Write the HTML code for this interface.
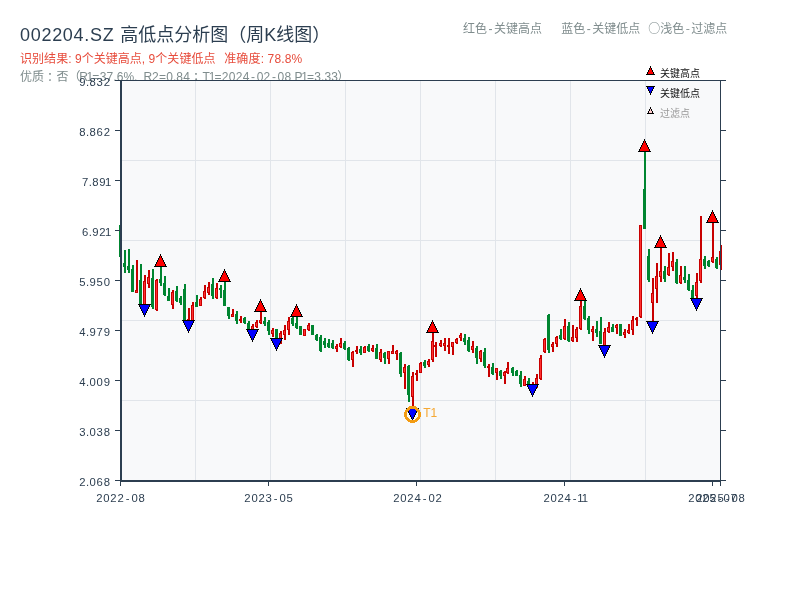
<!DOCTYPE html>
<html lang="zh-CN"><head><meta charset="utf-8"><title>002204.SZ 高低点分析图（周K线图）</title>
<style>
html,body{margin:0;padding:0;background:#fff;}
body{width:800px;height:600px;overflow:hidden;font-family:"Liberation Sans", "Noto Sans CJK SC", sans-serif;}
svg{display:block;}
text{font-family:"Liberation Sans", "Noto Sans CJK SC", sans-serif;}
.t1{font-size:18px;fill:#2c3e50;}
.t2{font-size:12px;fill:#e74c3c;}
.t3{font-size:12px;fill:#7f8c8d;}
.tk{font-size:11.3px;fill:#2c3e50;}
.lg{font-size:10px;fill:#111;}
</style></head><body>
<svg width="800" height="600" viewBox="0 0 800 600">
<rect x="0" y="0" width="800" height="600" fill="#fff"/>
<text class="t1" y="40.5"><tspan x="20" textLength="93.7" lengthAdjust="spacing">002204.SZ</tspan> <tspan x="120.2">高低点分析图（周K线图）</tspan></text>
<text class="t2" y="63.3"><tspan x="20" textLength="195.5" lengthAdjust="spacing">识别结果: 9个关键高点, 9个关键低点</tspan> <tspan x="224.2" textLength="78" lengthAdjust="spacing">准确度: 78.8%</tspan></text>
<text class="t3" y="81.4"><tspan x="20">优质</tspan><tspan x="47.0">：</tspan><tspan x="56.5">否（</tspan><tspan x="79.27 86.51 92.3 99.64 106.59 113.28 116.64 123.42 134.03 138.88 143.42 151.89 158.9 166.24 172.93 176.29 183.24">R1=37.6%, R2=0.84</tspan><tspan x="193.0">；</tspan><tspan x="202.48 208.71 214.5 221.84 228.79 235.74 242.69 251 256.64 263.59 271.9 277.54 284.49 291.28 294.45 301.21 307 314.34 321.03 324.39 331.34">T1=2024-02-08 P1=3.33</tspan><tspan x="337.2">）</tspan></text>
<text class="t3" y="33"><tspan x="463 475 488.5 494 506 518 530">红色-关键高点</tspan> <tspan x="561.2 573.2 586.7 592.2 604.2 616.2 628.2">蓝色-关键低点</tspan> <tspan x="648.3 660.3 672.3 685.8 691.3 703.3 715.3" style="font-family:'Noto Sans CJK SC','Liberation Sans',sans-serif">○浅色-过滤点</tspan></text>
<rect x="120" y="80" width="601" height="401" fill="#f8f9fa"/>
<g fill="#e1e5ea" shape-rendering="crispEdges">
<rect x="195" y="81" width="1" height="399"/>
<rect x="270" y="81" width="1" height="399"/>
<rect x="345" y="81" width="1" height="399"/>
<rect x="420" y="81" width="1" height="399"/>
<rect x="495" y="81" width="1" height="399"/>
<rect x="570" y="81" width="1" height="399"/>
<rect x="645" y="81" width="1" height="399"/>
<rect x="122" y="160" width="598" height="1"/>
<rect x="122" y="240" width="598" height="1"/>
<rect x="122" y="320" width="598" height="1"/>
<rect x="122" y="400" width="598" height="1"/>
</g>
<g shape-rendering="crispEdges">
<rect x="120" y="225" width="2" height="32" fill="#008530"/><rect x="119" y="225" width="3" height="32" fill="#008530"/>
<rect x="124" y="250" width="2" height="23" fill="#008530"/><rect x="123" y="263" width="3" height="4" fill="#008530"/>
<rect x="128" y="249" width="2" height="24" fill="#008530"/><rect x="127" y="266" width="3" height="4" fill="#008530"/>
<rect x="132" y="265" width="2" height="27" fill="#008530"/><rect x="131" y="269" width="3" height="23" fill="#008530"/>
<rect x="136" y="260" width="2" height="33" fill="#c80000"/><rect x="135" y="290" width="3" height="3" fill="#c80000"/><rect x="136" y="291" width="1" height="1" fill="#ff3030"/>
<rect x="140" y="264" width="2" height="41" fill="#008530"/><rect x="139" y="280" width="3" height="25" fill="#008530"/>
<rect x="144" y="275" width="2" height="30" fill="#c80000"/><rect x="143" y="281" width="3" height="24" fill="#c80000"/><rect x="144" y="282" width="1" height="22" fill="#ff3030"/>
<rect x="148" y="270" width="2" height="18" fill="#c80000"/><rect x="147" y="277" width="3" height="7" fill="#c80000"/><rect x="148" y="278" width="1" height="5" fill="#ff3030"/>
<rect x="152" y="269" width="2" height="40" fill="#008530"/><rect x="151" y="278" width="3" height="29" fill="#008530"/>
<rect x="156" y="279" width="2" height="32" fill="#c80000"/><rect x="155" y="280" width="3" height="30" fill="#c80000"/><rect x="156" y="281" width="1" height="28" fill="#ff3030"/>
<rect x="160" y="262" width="2" height="24" fill="#008530"/><rect x="159" y="279" width="3" height="4" fill="#008530"/>
<rect x="164" y="276" width="2" height="20" fill="#008530"/><rect x="163" y="283" width="3" height="12" fill="#008530"/>
<rect x="168" y="288" width="2" height="13" fill="#008530"/><rect x="167" y="296" width="3" height="5" fill="#008530"/>
<rect x="172" y="290" width="2" height="19" fill="#c80000"/><rect x="171" y="292" width="3" height="13" fill="#c80000"/><rect x="172" y="293" width="1" height="11" fill="#ff3030"/>
<rect x="176" y="286" width="2" height="16" fill="#008530"/><rect x="175" y="291" width="3" height="10" fill="#008530"/>
<rect x="180" y="296" width="2" height="9" fill="#008530"/><rect x="179" y="298" width="3" height="5" fill="#008530"/>
<rect x="184" y="284" width="2" height="37" fill="#008530"/><rect x="183" y="289" width="3" height="32" fill="#008530"/>
<rect x="188" y="308" width="2" height="13" fill="#c80000"/><rect x="187" y="319" width="3" height="2" fill="#c80000"/>
<rect x="192" y="302" width="2" height="19" fill="#c80000"/><rect x="191" y="305" width="3" height="16" fill="#c80000"/><rect x="192" y="306" width="1" height="14" fill="#ff3030"/>
<rect x="196" y="295" width="2" height="12" fill="#008530"/><rect x="195" y="302" width="3" height="5" fill="#008530"/>
<rect x="200" y="297" width="2" height="9" fill="#c80000"/><rect x="199" y="299" width="3" height="7" fill="#c80000"/><rect x="200" y="300" width="1" height="5" fill="#ff3030"/>
<rect x="204" y="285" width="2" height="14" fill="#c80000"/><rect x="203" y="291" width="3" height="7" fill="#c80000"/><rect x="204" y="292" width="1" height="5" fill="#ff3030"/>
<rect x="208" y="282" width="2" height="13" fill="#c80000"/><rect x="207" y="287" width="3" height="6" fill="#c80000"/><rect x="208" y="288" width="1" height="4" fill="#ff3030"/>
<rect x="212" y="278" width="2" height="21" fill="#008530"/><rect x="211" y="284" width="3" height="12" fill="#008530"/>
<rect x="216" y="283" width="2" height="16" fill="#c80000"/><rect x="215" y="288" width="3" height="10" fill="#c80000"/><rect x="216" y="289" width="1" height="8" fill="#ff3030"/>
<rect x="220" y="285" width="2" height="13" fill="#008530"/><rect x="219" y="288" width="3" height="2" fill="#008530"/>
<rect x="224" y="278" width="2" height="28" fill="#008530"/><rect x="223" y="290" width="3" height="16" fill="#008530"/>
<rect x="228" y="307" width="2" height="12" fill="#008530"/><rect x="227" y="307" width="3" height="9" fill="#008530"/>
<rect x="232" y="309" width="2" height="8" fill="#c80000"/><rect x="231" y="314" width="3" height="3" fill="#c80000"/><rect x="232" y="315" width="1" height="1" fill="#ff3030"/>
<rect x="236" y="311" width="2" height="13" fill="#008530"/><rect x="235" y="314" width="3" height="7" fill="#008530"/>
<rect x="240" y="316" width="2" height="7" fill="#c80000"/><rect x="239" y="319" width="3" height="2" fill="#c80000"/>
<rect x="244" y="317" width="2" height="7" fill="#008530"/><rect x="243" y="318" width="3" height="5" fill="#008530"/>
<rect x="248" y="321" width="2" height="9" fill="#008530"/><rect x="247" y="323" width="3" height="7" fill="#008530"/>
<rect x="252" y="324" width="2" height="6" fill="#c80000"/><rect x="251" y="326" width="3" height="4" fill="#c80000"/><rect x="252" y="327" width="1" height="2" fill="#ff3030"/>
<rect x="256" y="320" width="2" height="8" fill="#c80000"/><rect x="255" y="322" width="3" height="5" fill="#c80000"/><rect x="256" y="323" width="1" height="3" fill="#ff3030"/>
<rect x="260" y="308" width="2" height="16" fill="#c80000"/><rect x="259" y="320" width="3" height="3" fill="#c80000"/><rect x="260" y="321" width="1" height="1" fill="#ff3030"/>
<rect x="264" y="317" width="2" height="9" fill="#008530"/><rect x="263" y="321" width="3" height="3" fill="#008530"/>
<rect x="268" y="320" width="2" height="15" fill="#008530"/><rect x="267" y="322" width="3" height="9" fill="#008530"/>
<rect x="272" y="328" width="2" height="9" fill="#c80000"/><rect x="271" y="330" width="3" height="4" fill="#c80000"/><rect x="272" y="331" width="1" height="2" fill="#ff3030"/>
<rect x="276" y="329" width="2" height="13" fill="#008530"/><rect x="275" y="329" width="3" height="13" fill="#008530"/>
<rect x="280" y="331" width="2" height="13" fill="#c80000"/><rect x="279" y="333" width="3" height="9" fill="#c80000"/><rect x="280" y="334" width="1" height="7" fill="#ff3030"/>
<rect x="284" y="325" width="2" height="15" fill="#c80000"/><rect x="283" y="330" width="3" height="5" fill="#c80000"/><rect x="284" y="331" width="1" height="3" fill="#ff3030"/>
<rect x="288" y="317" width="2" height="18" fill="#c80000"/><rect x="287" y="321" width="3" height="9" fill="#c80000"/><rect x="288" y="322" width="1" height="7" fill="#ff3030"/>
<rect x="292" y="317" width="2" height="9" fill="#008530"/><rect x="291" y="318" width="3" height="6" fill="#008530"/>
<rect x="296" y="313" width="2" height="16" fill="#008530"/><rect x="295" y="323" width="3" height="5" fill="#008530"/>
<rect x="300" y="326" width="2" height="9" fill="#008530"/><rect x="299" y="326" width="3" height="9" fill="#008530"/>
<rect x="304" y="329" width="2" height="7" fill="#c80000"/><rect x="303" y="329" width="3" height="7" fill="#c80000"/><rect x="304" y="330" width="1" height="5" fill="#ff3030"/>
<rect x="308" y="323" width="2" height="8" fill="#c80000"/><rect x="307" y="325" width="3" height="5" fill="#c80000"/><rect x="308" y="326" width="1" height="3" fill="#ff3030"/>
<rect x="312" y="325" width="2" height="10" fill="#008530"/><rect x="311" y="325" width="3" height="10" fill="#008530"/>
<rect x="316" y="334" width="2" height="7" fill="#008530"/><rect x="315" y="335" width="3" height="5" fill="#008530"/>
<rect x="320" y="335" width="2" height="17" fill="#008530"/><rect x="319" y="337" width="3" height="14" fill="#008530"/>
<rect x="324" y="338" width="2" height="10" fill="#008530"/><rect x="323" y="341" width="3" height="4" fill="#008530"/>
<rect x="328" y="339" width="2" height="9" fill="#008530"/><rect x="327" y="343" width="3" height="4" fill="#008530"/>
<rect x="332" y="340" width="2" height="9" fill="#008530"/><rect x="331" y="343" width="3" height="5" fill="#008530"/>
<rect x="336" y="344" width="2" height="8" fill="#c80000"/><rect x="335" y="346" width="3" height="3" fill="#c80000"/><rect x="336" y="347" width="1" height="1" fill="#ff3030"/>
<rect x="340" y="338" width="2" height="10" fill="#c80000"/><rect x="339" y="343" width="3" height="4" fill="#c80000"/><rect x="340" y="344" width="1" height="2" fill="#ff3030"/>
<rect x="344" y="341" width="2" height="9" fill="#008530"/><rect x="343" y="343" width="3" height="6" fill="#008530"/>
<rect x="348" y="347" width="2" height="14" fill="#008530"/><rect x="347" y="348" width="3" height="12" fill="#008530"/>
<rect x="352" y="351" width="2" height="16" fill="#c80000"/><rect x="351" y="352" width="3" height="8" fill="#c80000"/><rect x="352" y="353" width="1" height="6" fill="#ff3030"/>
<rect x="356" y="346" width="2" height="8" fill="#c80000"/><rect x="355" y="350" width="3" height="2" fill="#c80000"/>
<rect x="360" y="346" width="2" height="9" fill="#008530"/><rect x="359" y="349" width="3" height="4" fill="#008530"/>
<rect x="364" y="346" width="2" height="7" fill="#c80000"/><rect x="363" y="347" width="3" height="6" fill="#c80000"/><rect x="364" y="348" width="1" height="4" fill="#ff3030"/>
<rect x="368" y="344" width="2" height="8" fill="#008530"/><rect x="367" y="346" width="3" height="5" fill="#008530"/>
<rect x="372" y="345" width="2" height="7" fill="#c80000"/><rect x="371" y="348" width="3" height="3" fill="#c80000"/><rect x="372" y="349" width="1" height="1" fill="#ff3030"/>
<rect x="376" y="344" width="2" height="15" fill="#008530"/><rect x="375" y="348" width="3" height="11" fill="#008530"/>
<rect x="380" y="349" width="2" height="13" fill="#c80000"/><rect x="379" y="352" width="3" height="8" fill="#c80000"/><rect x="380" y="353" width="1" height="6" fill="#ff3030"/>
<rect x="384" y="352" width="2" height="12" fill="#008530"/><rect x="383" y="353" width="3" height="5" fill="#008530"/>
<rect x="388" y="351" width="2" height="13" fill="#c80000"/><rect x="387" y="351" width="3" height="8" fill="#c80000"/><rect x="388" y="352" width="1" height="6" fill="#ff3030"/>
<rect x="392" y="345" width="2" height="9" fill="#c80000"/><rect x="391" y="351" width="3" height="3" fill="#c80000"/><rect x="392" y="352" width="1" height="1" fill="#ff3030"/>
<rect x="396" y="350" width="2" height="10" fill="#c80000"/><rect x="395" y="351" width="3" height="3" fill="#c80000"/><rect x="396" y="352" width="1" height="1" fill="#ff3030"/>
<rect x="400" y="352" width="2" height="25" fill="#008530"/><rect x="399" y="353" width="3" height="21" fill="#008530"/>
<rect x="404" y="364" width="2" height="25" fill="#c80000"/><rect x="403" y="367" width="3" height="6" fill="#c80000"/><rect x="404" y="368" width="1" height="4" fill="#ff3030"/>
<rect x="408" y="365" width="2" height="37" fill="#008530"/><rect x="407" y="366" width="3" height="29" fill="#008530"/>
<rect x="412" y="372" width="2" height="35" fill="#c80000"/><rect x="411" y="376" width="3" height="21" fill="#c80000"/><rect x="412" y="377" width="1" height="19" fill="#ff3030"/>
<rect x="416" y="370" width="2" height="11" fill="#c80000"/><rect x="415" y="373" width="3" height="2" fill="#c80000"/>
<rect x="420" y="362" width="2" height="11" fill="#c80000"/><rect x="419" y="363" width="3" height="10" fill="#c80000"/><rect x="420" y="364" width="1" height="8" fill="#ff3030"/>
<rect x="424" y="360" width="2" height="8" fill="#008530"/><rect x="423" y="362" width="3" height="4" fill="#008530"/>
<rect x="428" y="359" width="2" height="8" fill="#c80000"/><rect x="427" y="361" width="3" height="4" fill="#c80000"/><rect x="428" y="362" width="1" height="2" fill="#ff3030"/>
<rect x="432" y="329" width="2" height="33" fill="#c80000"/><rect x="431" y="341" width="3" height="19" fill="#c80000"/><rect x="432" y="342" width="1" height="17" fill="#ff3030"/>
<rect x="435" y="342" width="2" height="15" fill="#c80000"/><rect x="434" y="345" width="3" height="2" fill="#c80000"/>
<rect x="440" y="340" width="2" height="7" fill="#c80000"/><rect x="439" y="343" width="3" height="3" fill="#c80000"/><rect x="440" y="344" width="1" height="1" fill="#ff3030"/>
<rect x="444" y="338" width="2" height="13" fill="#c80000"/><rect x="443" y="343" width="3" height="3" fill="#c80000"/><rect x="444" y="344" width="1" height="1" fill="#ff3030"/>
<rect x="448" y="338" width="2" height="16" fill="#c80000"/><rect x="447" y="345" width="3" height="2" fill="#c80000"/>
<rect x="452" y="342" width="2" height="13" fill="#c80000"/><rect x="451" y="342" width="3" height="5" fill="#c80000"/><rect x="452" y="343" width="1" height="3" fill="#ff3030"/>
<rect x="456" y="338" width="2" height="6" fill="#c80000"/><rect x="455" y="339" width="3" height="4" fill="#c80000"/><rect x="456" y="340" width="1" height="2" fill="#ff3030"/>
<rect x="460" y="333" width="2" height="8" fill="#c80000"/><rect x="459" y="335" width="3" height="3" fill="#c80000"/><rect x="460" y="336" width="1" height="1" fill="#ff3030"/>
<rect x="464" y="334" width="2" height="11" fill="#008530"/><rect x="463" y="338" width="3" height="4" fill="#008530"/>
<rect x="468" y="337" width="2" height="15" fill="#008530"/><rect x="467" y="340" width="3" height="11" fill="#008530"/>
<rect x="472" y="341" width="2" height="12" fill="#c80000"/><rect x="471" y="346" width="3" height="4" fill="#c80000"/><rect x="472" y="347" width="1" height="2" fill="#ff3030"/>
<rect x="476" y="346" width="2" height="18" fill="#008530"/><rect x="475" y="348" width="3" height="10" fill="#008530"/>
<rect x="480" y="350" width="2" height="12" fill="#c80000"/><rect x="479" y="351" width="3" height="8" fill="#c80000"/><rect x="480" y="352" width="1" height="6" fill="#ff3030"/>
<rect x="484" y="348" width="2" height="20" fill="#008530"/><rect x="483" y="352" width="3" height="14" fill="#008530"/>
<rect x="488" y="364" width="2" height="13" fill="#c80000"/><rect x="487" y="366" width="3" height="2" fill="#c80000"/>
<rect x="492" y="363" width="2" height="12" fill="#008530"/><rect x="491" y="367" width="3" height="7" fill="#008530"/>
<rect x="496" y="368" width="2" height="12" fill="#c80000"/><rect x="495" y="368" width="3" height="5" fill="#c80000"/><rect x="496" y="369" width="1" height="3" fill="#ff3030"/>
<rect x="500" y="370" width="2" height="9" fill="#008530"/><rect x="499" y="371" width="3" height="5" fill="#008530"/>
<rect x="504" y="371" width="2" height="13" fill="#c80000"/><rect x="503" y="372" width="3" height="4" fill="#c80000"/><rect x="504" y="373" width="1" height="2" fill="#ff3030"/>
<rect x="507" y="362" width="2" height="12" fill="#c80000"/><rect x="506" y="368" width="3" height="5" fill="#c80000"/><rect x="507" y="369" width="1" height="3" fill="#ff3030"/>
<rect x="512" y="367" width="2" height="9" fill="#008530"/><rect x="511" y="368" width="3" height="5" fill="#008530"/>
<rect x="516" y="370" width="2" height="6" fill="#008530"/><rect x="515" y="371" width="3" height="5" fill="#008530"/>
<rect x="520" y="371" width="2" height="16" fill="#008530"/><rect x="519" y="375" width="3" height="9" fill="#008530"/>
<rect x="524" y="376" width="2" height="10" fill="#c80000"/><rect x="523" y="379" width="3" height="7" fill="#c80000"/><rect x="524" y="380" width="1" height="5" fill="#ff3030"/>
<rect x="528" y="378" width="2" height="10" fill="#008530"/><rect x="527" y="381" width="3" height="5" fill="#008530"/>
<rect x="532" y="382" width="2" height="6" fill="#c80000"/><rect x="531" y="384" width="3" height="3" fill="#c80000"/><rect x="532" y="385" width="1" height="1" fill="#ff3030"/>
<rect x="536" y="374" width="2" height="14" fill="#c80000"/><rect x="535" y="378" width="3" height="7" fill="#c80000"/><rect x="536" y="379" width="1" height="5" fill="#ff3030"/>
<rect x="540" y="355" width="2" height="25" fill="#c80000"/><rect x="539" y="358" width="3" height="21" fill="#c80000"/><rect x="540" y="359" width="1" height="19" fill="#ff3030"/>
<rect x="544" y="338" width="2" height="15" fill="#c80000"/><rect x="543" y="339" width="3" height="13" fill="#c80000"/><rect x="544" y="340" width="1" height="11" fill="#ff3030"/>
<rect x="548" y="314" width="2" height="39" fill="#008530"/><rect x="547" y="315" width="3" height="35" fill="#008530"/>
<rect x="552" y="342" width="2" height="10" fill="#c80000"/><rect x="551" y="344" width="3" height="3" fill="#c80000"/><rect x="552" y="345" width="1" height="1" fill="#ff3030"/>
<rect x="556" y="336" width="2" height="11" fill="#c80000"/><rect x="555" y="337" width="3" height="7" fill="#c80000"/><rect x="556" y="338" width="1" height="5" fill="#ff3030"/>
<rect x="560" y="329" width="2" height="11" fill="#008530"/><rect x="559" y="335" width="3" height="4" fill="#008530"/>
<rect x="564" y="319" width="2" height="21" fill="#c80000"/><rect x="563" y="326" width="3" height="13" fill="#c80000"/><rect x="564" y="327" width="1" height="11" fill="#ff3030"/>
<rect x="568" y="322" width="2" height="20" fill="#008530"/><rect x="567" y="326" width="3" height="15" fill="#008530"/>
<rect x="572" y="325" width="2" height="17" fill="#c80000"/><rect x="571" y="337" width="3" height="4" fill="#c80000"/><rect x="572" y="338" width="1" height="2" fill="#ff3030"/>
<rect x="576" y="327" width="2" height="15" fill="#c80000"/><rect x="575" y="329" width="3" height="9" fill="#c80000"/><rect x="576" y="330" width="1" height="7" fill="#ff3030"/>
<rect x="580" y="297" width="2" height="33" fill="#c80000"/><rect x="579" y="306" width="3" height="23" fill="#c80000"/><rect x="580" y="307" width="1" height="21" fill="#ff3030"/>
<rect x="584" y="300" width="2" height="20" fill="#008530"/><rect x="583" y="306" width="3" height="13" fill="#008530"/>
<rect x="588" y="316" width="2" height="18" fill="#008530"/><rect x="587" y="318" width="3" height="12" fill="#008530"/>
<rect x="592" y="326" width="2" height="15" fill="#c80000"/><rect x="591" y="329" width="3" height="3" fill="#c80000"/><rect x="592" y="330" width="1" height="1" fill="#ff3030"/>
<rect x="596" y="321" width="2" height="16" fill="#008530"/><rect x="595" y="329" width="3" height="4" fill="#008530"/>
<rect x="600" y="317" width="2" height="27" fill="#008530"/><rect x="599" y="331" width="3" height="13" fill="#008530"/>
<rect x="604" y="328" width="2" height="21" fill="#c80000"/><rect x="603" y="332" width="3" height="17" fill="#c80000"/><rect x="604" y="333" width="1" height="15" fill="#ff3030"/>
<rect x="608" y="322" width="2" height="11" fill="#c80000"/><rect x="607" y="327" width="3" height="5" fill="#c80000"/><rect x="608" y="328" width="1" height="3" fill="#ff3030"/>
<rect x="612" y="324" width="2" height="8" fill="#008530"/><rect x="611" y="327" width="3" height="5" fill="#008530"/>
<rect x="616" y="324" width="2" height="10" fill="#c80000"/><rect x="615" y="325" width="3" height="3" fill="#c80000"/><rect x="616" y="326" width="1" height="1" fill="#ff3030"/>
<rect x="620" y="324" width="2" height="12" fill="#008530"/><rect x="619" y="324" width="3" height="12" fill="#008530"/>
<rect x="624" y="329" width="2" height="9" fill="#c80000"/><rect x="623" y="332" width="3" height="3" fill="#c80000"/><rect x="624" y="333" width="1" height="1" fill="#ff3030"/>
<rect x="628" y="324" width="2" height="10" fill="#c80000"/><rect x="627" y="330" width="3" height="3" fill="#c80000"/><rect x="628" y="331" width="1" height="1" fill="#ff3030"/>
<rect x="632" y="316" width="2" height="19" fill="#c80000"/><rect x="631" y="320" width="3" height="10" fill="#c80000"/><rect x="632" y="321" width="1" height="8" fill="#ff3030"/>
<rect x="636" y="317" width="2" height="9" fill="#c80000"/><rect x="635" y="318" width="3" height="2" fill="#c80000"/>
<rect x="640" y="225" width="2" height="93" fill="#c80000"/><rect x="639" y="225" width="3" height="92" fill="#c80000"/><rect x="640" y="226" width="1" height="90" fill="#ff3030"/>
<rect x="644" y="148" width="2" height="81" fill="#008530"/><rect x="643" y="189" width="3" height="40" fill="#008530"/>
<rect x="648" y="249" width="2" height="33" fill="#008530"/><rect x="647" y="256" width="3" height="24" fill="#008530"/>
<rect x="652" y="278" width="2" height="47" fill="#c80000"/><rect x="651" y="293" width="3" height="10" fill="#c80000"/><rect x="652" y="294" width="1" height="8" fill="#ff3030"/>
<rect x="656" y="263" width="2" height="40" fill="#c80000"/><rect x="655" y="276" width="3" height="13" fill="#c80000"/><rect x="656" y="277" width="1" height="11" fill="#ff3030"/>
<rect x="660" y="244" width="2" height="38" fill="#c80000"/><rect x="659" y="271" width="3" height="6" fill="#c80000"/><rect x="660" y="272" width="1" height="4" fill="#ff3030"/>
<rect x="664" y="266" width="2" height="16" fill="#008530"/><rect x="663" y="271" width="3" height="8" fill="#008530"/>
<rect x="668" y="253" width="2" height="23" fill="#c80000"/><rect x="667" y="267" width="3" height="8" fill="#c80000"/><rect x="668" y="268" width="1" height="6" fill="#ff3030"/>
<rect x="672" y="252" width="2" height="19" fill="#c80000"/><rect x="671" y="261" width="3" height="6" fill="#c80000"/><rect x="672" y="262" width="1" height="4" fill="#ff3030"/>
<rect x="676" y="259" width="2" height="25" fill="#008530"/><rect x="675" y="262" width="3" height="21" fill="#008530"/>
<rect x="680" y="266" width="2" height="18" fill="#c80000"/><rect x="679" y="275" width="3" height="8" fill="#c80000"/><rect x="680" y="276" width="1" height="6" fill="#ff3030"/>
<rect x="684" y="266" width="2" height="17" fill="#008530"/><rect x="683" y="277" width="3" height="3" fill="#008530"/>
<rect x="688" y="274" width="2" height="17" fill="#008530"/><rect x="687" y="280" width="3" height="10" fill="#008530"/>
<rect x="692" y="285" width="2" height="17" fill="#008530"/><rect x="691" y="290" width="3" height="9" fill="#008530"/>
<rect x="696" y="273" width="2" height="29" fill="#c80000"/><rect x="695" y="282" width="3" height="14" fill="#c80000"/><rect x="696" y="283" width="1" height="12" fill="#ff3030"/>
<rect x="700" y="216" width="2" height="67" fill="#c80000"/><rect x="699" y="259" width="3" height="22" fill="#c80000"/><rect x="700" y="260" width="1" height="20" fill="#ff3030"/>
<rect x="704" y="256" width="2" height="13" fill="#008530"/><rect x="703" y="259" width="3" height="7" fill="#008530"/>
<rect x="708" y="260" width="2" height="7" fill="#008530"/><rect x="707" y="261" width="3" height="5" fill="#008530"/>
<rect x="712" y="219" width="2" height="44" fill="#c80000"/><rect x="711" y="257" width="3" height="5" fill="#c80000"/><rect x="712" y="258" width="1" height="3" fill="#ff3030"/>
<rect x="716" y="257" width="2" height="12" fill="#008530"/><rect x="715" y="259" width="3" height="9" fill="#008530"/>
<rect x="720" y="245" width="2" height="25" fill="#c80000"/><rect x="719" y="251" width="3" height="14" fill="#c80000"/><rect x="720" y="252" width="1" height="12" fill="#ff3030"/>
</g>
<g fill="#2c3e50" shape-rendering="crispEdges">
<rect x="120" y="80" width="2" height="402"/>
<rect x="120" y="480" width="601" height="2"/>
<rect x="115" y="80" width="606" height="1"/>
<rect x="720" y="80" width="1" height="402"/>
<rect x="115" y="80" width="5" height="1"/><rect x="721" y="80" width="5" height="1"/>
<rect x="115" y="130" width="5" height="1"/><rect x="721" y="130" width="5" height="1"/>
<rect x="115" y="180" width="5" height="1"/><rect x="721" y="180" width="5" height="1"/>
<rect x="115" y="230" width="5" height="1"/><rect x="721" y="230" width="5" height="1"/>
<rect x="115" y="280" width="5" height="1"/><rect x="721" y="280" width="5" height="1"/>
<rect x="115" y="330" width="5" height="1"/><rect x="721" y="330" width="5" height="1"/>
<rect x="115" y="380" width="5" height="1"/><rect x="721" y="380" width="5" height="1"/>
<rect x="115" y="430" width="5" height="1"/><rect x="721" y="430" width="5" height="1"/>
<rect x="115" y="480" width="5" height="1"/><rect x="721" y="480" width="5" height="1"/>
<rect x="120" y="482" width="1" height="4"/>
<rect x="268" y="482" width="1" height="4"/>
<rect x="416" y="482" width="1" height="4"/>
<rect x="564" y="482" width="1" height="4"/>
<rect x="712" y="482" width="1" height="4"/>
<rect x="720" y="482" width="1" height="4"/>
</g>
<g stroke="#000" stroke-width="1" stroke-linejoin="miter" shape-rendering="crispEdges">
<polygon points="160.5,254.9 166.3,266.5 154.7,266.5" fill="#ff0000"/>
<polygon points="224.5,269.9 230.3,281.5 218.7,281.5" fill="#ff0000"/>
<polygon points="260.5,299.9 266.3,311.5 254.7,311.5" fill="#ff0000"/>
<polygon points="296.5,304.9 302.3,316.5 290.7,316.5" fill="#ff0000"/>
<polygon points="432.5,320.9 438.3,332.5 426.7,332.5" fill="#ff0000"/>
<polygon points="580.5,288.9 586.3,300.5 574.7,300.5" fill="#ff0000"/>
<polygon points="644.5,139.9 650.3,151.5 638.7,151.5" fill="#ff0000"/>
<polygon points="660.5,235.9 666.3,247.5 654.7,247.5" fill="#ff0000"/>
<polygon points="712.5,210.9 718.3,222.5 706.7,222.5" fill="#ff0000"/>
<polygon points="144.5,316.1 150.3,304.5 138.7,304.5" fill="#0000ff"/>
<polygon points="188.5,332.1 194.3,320.5 182.7,320.5" fill="#0000ff"/>
<polygon points="252.5,341.1 258.3,329.5 246.7,329.5" fill="#0000ff"/>
<polygon points="276.5,350.1 282.3,338.5 270.7,338.5" fill="#0000ff"/>
<polygon points="412.5,420.1 418.3,408.5 406.7,408.5" fill="#0000ff"/>
<polygon points="532.5,396.1 538.3,384.5 526.7,384.5" fill="#0000ff"/>
<polygon points="604.5,357.1 610.3,345.5 598.7,345.5" fill="#0000ff"/>
<polygon points="652.5,333.1 658.3,321.5 646.7,321.5" fill="#0000ff"/>
<polygon points="696.5,310.1 702.3,298.5 690.7,298.5" fill="#0000ff"/>
</g>
<circle cx="412.5" cy="414.4" r="7" fill="none" stroke="#f39c12" stroke-width="3" shape-rendering="crispEdges"/>
<g fill="#000" shape-rendering="crispEdges"><rect x="406" y="408" width="1" height="1"/><rect x="418" y="408" width="1" height="1"/></g>
<text x="423.2" y="416.9" style="font-size:12px;fill:#f5a833">T1</text>
<g stroke="#000" stroke-width="1" shape-rendering="crispEdges">
<polygon points="650.5,66.9 654.3,74.5 646.7,74.5" fill="#ff0000"/>
<polygon points="650.5,94.1 654.3,86.5 646.7,86.5" fill="#0000ff"/>
<polygon points="650.5,107.9 653.3,113.5 647.7,113.5" fill="#ffcccc"/>
</g>
<text class="lg" x="660" y="76.8">关键高点</text>
<text class="lg" x="660" y="96.8">关键低点</text>
<text class="lg" x="660" y="116.8" style="fill:#999">过滤点</text>
<text class="tk" x="79.28 85.98 89.53 96.58 103.63" y="86">9.832</text>
<text class="tk" x="79.28 85.98 89.53 96.58 103.63" y="136">8.862</text>
<text class="tk" x="81.93 88.63 92.18 99.23 104.96" y="186">7.891</text>
<text class="tk" x="81.93 88.63 92.18 99.23 104.96" y="236">6.921</text>
<text class="tk" x="79.28 85.98 89.53 96.58 103.63" y="286">5.950</text>
<text class="tk" x="79.28 85.98 89.53 96.58 103.63" y="336">4.979</text>
<text class="tk" x="79.28 85.98 89.53 96.58 103.63" y="386">4.009</text>
<text class="tk" x="79.28 85.98 89.53 96.58 103.63" y="436">3.038</text>
<text class="tk" x="79.28 85.98 89.53 96.58 103.63" y="486">2.068</text>
<text class="tk" x="96.23 103.28 110.33 117.38 125.67 131.43 138.48" y="502.2">2022-08</text>
<text class="tk" x="244.33 251.38 258.43 265.48 273.77 279.53 286.58" y="502.2">2023-05</text>
<text class="tk" x="393.23 400.28 407.33 414.38 422.67 428.43 435.48" y="502.2">2024-02</text>
<text class="tk" x="543.38 550.43 557.48 564.53 572.82 577.26 581.66" y="502.2">2024-11</text>
<text class="tk" x="688.23 695.28 702.33 709.38 717.67 723.43 730.48" y="502.2">2025-07</text>
<text class="tk" x="696.23 703.28 710.33 717.38 725.67 731.43 738.48" y="502.2">2025-08</text>
</svg>
</body></html>
